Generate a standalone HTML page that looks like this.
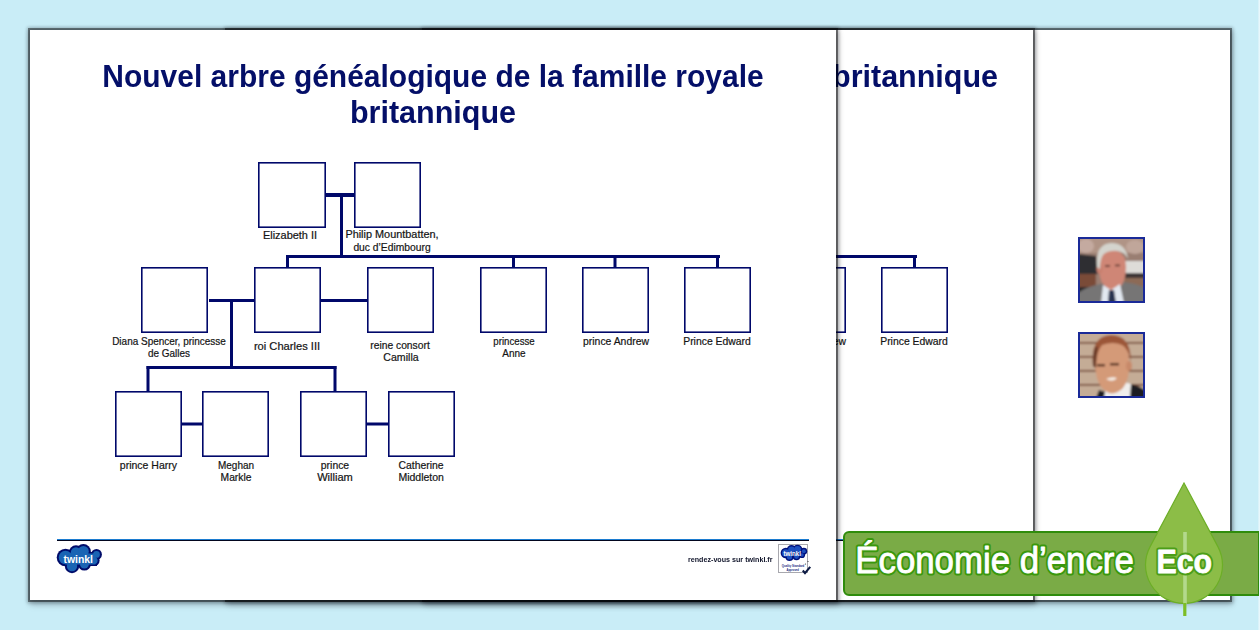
<!DOCTYPE html>
<html><head><meta charset="utf-8">
<style>
html,body{margin:0;padding:0;}
body{width:1260px;height:630px;overflow:hidden;position:relative;background:#c9edf7;font-family:"Liberation Sans",sans-serif;}
.page{position:absolute;top:30px;width:806px;height:570px;background:#fff;overflow:hidden;
  box-shadow:0 0 0 2px rgba(0,0,0,.44),0 0 3px 3px rgba(0,10,20,.2),0.5px 2px 5px 2px rgba(0,10,20,.22),1px 4px 8px 1px rgba(0,10,20,.1);}
#p1{left:30px;}
#p2{left:227px;}
#p3{left:424px;}
.title{position:absolute;left:0;width:806px;text-align:center;color:#040f68;font-weight:bold;font-size:31px;line-height:36px;white-space:nowrap;transform:scaleX(0.96);transform-origin:403px 0;}
.lbl{position:absolute;font-size:10.5px;line-height:12px;color:#141414;-webkit-text-stroke:0.2px #141414;white-space:nowrap;transform:translateX(-50%);}
svg{position:absolute;left:0;top:0;}
</style></head>
<body>

<div class="page" id="p3">
  <svg width="67" height="66" viewBox="0 0 67 66" style="left:654px;top:207px;">
    <defs><filter id="bl" x="-10%" y="-10%" width="120%" height="120%"><feGaussianBlur stdDeviation="0.9"/></filter>
    <clipPath id="c1"><rect x="2" y="2" width="63" height="62"/></clipPath></defs>
    <g clip-path="url(#c1)"><g filter="url(#bl)">
      <rect x="0" y="0" width="67" height="66" fill="#9a7e72"/>
      <rect x="0" y="0" width="67" height="16" fill="#b09486"/>
      <ellipse cx="8" cy="9" rx="8" ry="7" fill="#c4aaa0"/>
      <ellipse cx="57" cy="10" rx="9" ry="7" fill="#c0a69a"/>
      <path d="M0 17 L18 19 L20 37 L0 38 Z" fill="#2e2e30"/>
      <rect x="0" y="37" width="18" height="16" fill="#7a4c38"/>
      <rect x="0" y="50" width="20" height="16" fill="#2a2a2c"/>
      <rect x="46" y="24" width="21" height="12" fill="#dedcd8"/>
      <rect x="46" y="36" width="21" height="5" fill="#3c3434"/>
      <rect x="46" y="41" width="21" height="25" fill="#8c6a56"/>
      <path d="M0 66 L0 56 Q8 50 22 47 L44 45 Q58 46 67 51 L67 66 Z" fill="#767474"/>
      <path d="M21 30 Q21 13 34 13 Q48 14 48 30 Q48 44 42 50 Q36 55 31 53 Q24 48 22 40 Z" fill="#cf8676"/>
      <ellipse cx="21.5" cy="32" rx="3" ry="5" fill="#c88070"/>
      <path d="M19 30 Q17 7 33 6 Q48 6 50 22 Q47 15 40 14 Q30 13 25 18 Q22 23 22 32 Z" fill="#d4d4ce"/>
      <path d="M25 48 L33 53 L42 47 L46 66 L23 66 Z" fill="#e2e8f0"/>
      <path d="M31 53 L36 53 L38 66 L30 66 Z" fill="#263050"/>
      <rect x="27" y="28" width="5" height="1.8" fill="#6a4038"/>
      <rect x="37" y="27.5" width="5" height="1.8" fill="#6a4038"/>
    </g></g>
    <rect x="1" y="1" width="65" height="64" fill="none" stroke="#1a2a98" stroke-width="2"/>
  </svg>
  <svg width="67" height="66" viewBox="0 0 67 66" style="left:654px;top:302px;">
    <defs><clipPath id="c2"><rect x="2" y="2" width="63" height="62"/></clipPath></defs>
    <g clip-path="url(#c2)"><g filter="url(#bl)">
      <rect x="0" y="0" width="67" height="66" fill="#c4ac96"/>
      <g fill="#6e3e2c"><rect x="0" y="10" width="67" height="1.6"/><rect x="0" y="24" width="67" height="1.6"/><rect x="0" y="38" width="67" height="1.6"/><rect x="0" y="52" width="67" height="1.6"/></g>
      <path d="M50 66 L52 52 L60 54 L67 58 L67 66 Z" fill="#1c1c20"/>
      <path d="M18 66 L21 58 L28 60 L28 66 Z" fill="#1c1c20"/>
      <path d="M26 66 L28 54 L46 50 L53 52 L52 66 Z" fill="#f0eeec"/>
      <path d="M16 30 Q16 9 33 9 Q51 9 51 30 Q52 47 45 56 Q38 63 31 61 Q22 57 19 46 Z" fill="#d49a78"/>
      <ellipse cx="51" cy="34" rx="3" ry="5" fill="#c88a6a"/>
      <path d="M15 34 Q12 4 33 3 Q53 3 53 30 Q50 16 44 13 Q35 9 24 13 Q18 20 18 36 Z" fill="#9c5638"/><path d="M15 34 Q14 20 18 14 L20 16 Q18 24 18 36 Z" fill="#6a3e2c"/>
      <rect x="19" y="32" width="8" height="2.4" fill="#5a3424"/>
      <rect x="32" y="31" width="9" height="2.4" fill="#5a3424"/>
      <path d="M28 47 Q34 44 39 46 Q35 51 28 47 Z" fill="#f4ece4"/>
    </g></g>
    <rect x="1" y="1" width="65" height="64" fill="none" stroke="#1a2a98" stroke-width="2"/>
  </svg>
</div>

<div class="page" id="p2">
  <div class="title" style="left:605px;width:auto;top:28.8px;transform-origin:0 0;transform:scaleX(0.984);">britannique</div>
<svg width="806" height="570" viewBox="30 30 806 570">
<rect x="258.8" y="162.8" width="66.4" height="64.4" fill="none" stroke="#00086a" stroke-width="1.6"/>
<rect x="354.8" y="162.8" width="65.4" height="64.4" fill="none" stroke="#00086a" stroke-width="1.6"/>
<rect x="141.8" y="267.8" width="65.4" height="64.4" fill="none" stroke="#00086a" stroke-width="1.6"/>
<rect x="254.8" y="267.8" width="65.4" height="64.4" fill="none" stroke="#00086a" stroke-width="1.6"/>
<rect x="367.8" y="267.8" width="65.4" height="64.4" fill="none" stroke="#00086a" stroke-width="1.6"/>
<rect x="480.8" y="267.8" width="65.4" height="64.4" fill="none" stroke="#00086a" stroke-width="1.6"/>
<rect x="582.8" y="267.8" width="65.4" height="64.4" fill="none" stroke="#00086a" stroke-width="1.6"/>
<rect x="684.8" y="267.8" width="65.4" height="64.4" fill="none" stroke="#00086a" stroke-width="1.6"/>
<rect x="115.8" y="391.8" width="65.4" height="64.4" fill="none" stroke="#00086a" stroke-width="1.6"/>
<rect x="202.8" y="391.8" width="65.4" height="64.4" fill="none" stroke="#00086a" stroke-width="1.6"/>
<rect x="300.8" y="391.8" width="65.4" height="64.4" fill="none" stroke="#00086a" stroke-width="1.6"/>
<rect x="388.8" y="391.8" width="65.4" height="64.4" fill="none" stroke="#00086a" stroke-width="1.6"/>
<g fill="#00086a">
<rect x="326" y="193" width="28" height="4"/>
<rect x="340" y="195" width="3" height="62"/>
<rect x="286" y="255" width="434" height="3"/>
<rect x="286" y="255" width="3" height="13"/>
<rect x="512" y="255" width="3" height="13"/>
<rect x="613.5" y="255" width="3" height="13"/>
<rect x="716" y="255" width="3" height="13"/>
<rect x="209" y="299" width="45" height="3"/>
<rect x="321" y="299" width="46" height="3"/>
<rect x="230" y="299" width="3" height="70"/>
<rect x="146.5" y="366" width="190" height="3"/>
<rect x="146.5" y="366" width="3" height="26"/>
<rect x="333.5" y="366" width="3" height="26"/>
<rect x="182" y="422.5" width="20" height="3"/>
<rect x="367" y="422.5" width="21" height="3"/>
</g></svg>
<div class="lbl" style="left:259.8px;top:199px;transform:translateX(-50%) scaleX(1.043)">Elizabeth II</div>
<div class="lbl" style="left:361.9px;top:198px;transform:translateX(-50%) scaleX(1.037)">Philip Mountbatten,</div>
<div class="lbl" style="left:361.7px;top:211px;transform:translateX(-50%) scaleX(0.98)">duc d’Edimbourg</div>
<div class="lbl" style="left:138.7px;top:305px;transform:translateX(-50%) scaleX(0.95)">Diana Spencer, princesse</div>
<div class="lbl" style="left:138.7px;top:317px;transform:translateX(-50%) scaleX(0.948)">de Galles</div>
<div class="lbl" style="left:256.5px;top:310px;transform:translateX(-50%) scaleX(1.06)">roi Charles III</div>
<div class="lbl" style="left:370.2px;top:309px;transform:translateX(-50%) scaleX(0.98)">reine consort</div>
<div class="lbl" style="left:370.5px;top:321px;transform:translateX(-50%) scaleX(1.01)">Camilla</div>
<div class="lbl" style="left:483.7px;top:305px;transform:translateX(-50%) scaleX(0.92)">princesse</div>
<div class="lbl" style="left:483.9px;top:317px;transform:translateX(-50%) scaleX(0.95)">Anne</div>
<div class="lbl" style="left:585.6px;top:305px;transform:translateX(-50%) scaleX(0.99)">prince Andrew</div>
<div class="lbl" style="left:687.2px;top:305px;transform:translateX(-50%) scaleX(0.99)">Prince Edward</div>
<div class="lbl" style="left:118.4px;top:429px;transform:translateX(-50%) scaleX(1.0)">prince Harry</div>
<div class="lbl" style="left:206.0px;top:429px;transform:translateX(-50%) scaleX(0.95)">Meghan</div>
<div class="lbl" style="left:206.0px;top:441px;transform:translateX(-50%) scaleX(0.98)">Markle</div>
<div class="lbl" style="left:305.2px;top:429px;transform:translateX(-50%) scaleX(0.99)">prince</div>
<div class="lbl" style="left:305.1px;top:441px;transform:translateX(-50%) scaleX(1.056)">William</div>
<div class="lbl" style="left:391.0px;top:429px;transform:translateX(-50%) scaleX(0.99)">Catherine</div>
<div class="lbl" style="left:391.2px;top:441px;transform:translateX(-50%) scaleX(1.0)">Middleton</div>

  <div style="position:absolute;left:26.5px;top:508.6px;width:752px;height:1.3px;background:#1c7cd0;"></div>
  <div style="position:absolute;left:26.5px;top:509.9px;width:752px;height:1.3px;background:#02061e;"></div>
</div>

<div class="page" id="p1">
  <div class="title" style="top:28.8px;transform:scaleX(0.967);">Nouvel arbre généalogique de la famille royale</div>
  <div class="title" style="top:64.8px;transform:scaleX(0.984);">britannique</div>
<svg width="806" height="570" viewBox="30 30 806 570">
<rect x="258.8" y="162.8" width="66.4" height="64.4" fill="none" stroke="#00086a" stroke-width="1.6"/>
<rect x="354.8" y="162.8" width="65.4" height="64.4" fill="none" stroke="#00086a" stroke-width="1.6"/>
<rect x="141.8" y="267.8" width="65.4" height="64.4" fill="none" stroke="#00086a" stroke-width="1.6"/>
<rect x="254.8" y="267.8" width="65.4" height="64.4" fill="none" stroke="#00086a" stroke-width="1.6"/>
<rect x="367.8" y="267.8" width="65.4" height="64.4" fill="none" stroke="#00086a" stroke-width="1.6"/>
<rect x="480.8" y="267.8" width="65.4" height="64.4" fill="none" stroke="#00086a" stroke-width="1.6"/>
<rect x="582.8" y="267.8" width="65.4" height="64.4" fill="none" stroke="#00086a" stroke-width="1.6"/>
<rect x="684.8" y="267.8" width="65.4" height="64.4" fill="none" stroke="#00086a" stroke-width="1.6"/>
<rect x="115.8" y="391.8" width="65.4" height="64.4" fill="none" stroke="#00086a" stroke-width="1.6"/>
<rect x="202.8" y="391.8" width="65.4" height="64.4" fill="none" stroke="#00086a" stroke-width="1.6"/>
<rect x="300.8" y="391.8" width="65.4" height="64.4" fill="none" stroke="#00086a" stroke-width="1.6"/>
<rect x="388.8" y="391.8" width="65.4" height="64.4" fill="none" stroke="#00086a" stroke-width="1.6"/>
<g fill="#00086a">
<rect x="326" y="193" width="28" height="4"/>
<rect x="340" y="195" width="3" height="62"/>
<rect x="286" y="255" width="434" height="3"/>
<rect x="286" y="255" width="3" height="13"/>
<rect x="512" y="255" width="3" height="13"/>
<rect x="613.5" y="255" width="3" height="13"/>
<rect x="716" y="255" width="3" height="13"/>
<rect x="209" y="299" width="45" height="3"/>
<rect x="321" y="299" width="46" height="3"/>
<rect x="230" y="299" width="3" height="70"/>
<rect x="146.5" y="366" width="190" height="3"/>
<rect x="146.5" y="366" width="3" height="26"/>
<rect x="333.5" y="366" width="3" height="26"/>
<rect x="182" y="422.5" width="20" height="3"/>
<rect x="367" y="422.5" width="21" height="3"/>
</g></svg>
<div class="lbl" style="left:259.8px;top:199px;transform:translateX(-50%) scaleX(1.043)">Elizabeth II</div>
<div class="lbl" style="left:361.9px;top:198px;transform:translateX(-50%) scaleX(1.037)">Philip Mountbatten,</div>
<div class="lbl" style="left:361.7px;top:211px;transform:translateX(-50%) scaleX(0.98)">duc d’Edimbourg</div>
<div class="lbl" style="left:138.7px;top:305px;transform:translateX(-50%) scaleX(0.95)">Diana Spencer, princesse</div>
<div class="lbl" style="left:138.7px;top:317px;transform:translateX(-50%) scaleX(0.948)">de Galles</div>
<div class="lbl" style="left:256.5px;top:310px;transform:translateX(-50%) scaleX(1.06)">roi Charles III</div>
<div class="lbl" style="left:370.2px;top:309px;transform:translateX(-50%) scaleX(0.98)">reine consort</div>
<div class="lbl" style="left:370.5px;top:321px;transform:translateX(-50%) scaleX(1.01)">Camilla</div>
<div class="lbl" style="left:483.7px;top:305px;transform:translateX(-50%) scaleX(0.92)">princesse</div>
<div class="lbl" style="left:483.9px;top:317px;transform:translateX(-50%) scaleX(0.95)">Anne</div>
<div class="lbl" style="left:585.6px;top:305px;transform:translateX(-50%) scaleX(0.99)">prince Andrew</div>
<div class="lbl" style="left:687.2px;top:305px;transform:translateX(-50%) scaleX(0.99)">Prince Edward</div>
<div class="lbl" style="left:118.4px;top:429px;transform:translateX(-50%) scaleX(1.0)">prince Harry</div>
<div class="lbl" style="left:206.0px;top:429px;transform:translateX(-50%) scaleX(0.95)">Meghan</div>
<div class="lbl" style="left:206.0px;top:441px;transform:translateX(-50%) scaleX(0.98)">Markle</div>
<div class="lbl" style="left:305.2px;top:429px;transform:translateX(-50%) scaleX(0.99)">prince</div>
<div class="lbl" style="left:305.1px;top:441px;transform:translateX(-50%) scaleX(1.056)">William</div>
<div class="lbl" style="left:391.0px;top:429px;transform:translateX(-50%) scaleX(0.99)">Catherine</div>
<div class="lbl" style="left:391.2px;top:441px;transform:translateX(-50%) scaleX(1.0)">Middleton</div>


  <div style="position:absolute;left:26.5px;top:508.6px;width:752px;height:1.3px;background:#1c7cd0;"></div>
  <div style="position:absolute;left:26.5px;top:509.9px;width:752px;height:1.3px;background:#02061e;"></div>
  <svg width="60" height="40" viewBox="0 0 60 40" style="left:24px;top:512px;">
    <g fill="#000c6a">
      <circle cx="11.5" cy="15.5" r="8.8"/><circle cx="22" cy="10.5" r="7.2"/><circle cx="29.4" cy="9.4" r="7.4"/>
      <circle cx="42.5" cy="12.4" r="5.4"/><circle cx="18" cy="24" r="7.2"/><circle cx="30.4" cy="22.2" r="6.4"/><circle cx="40" cy="18.5" r="5.6"/>
      <rect x="10" y="10" width="33" height="14"/>
    </g>
    <g fill="#1a64b4">
      <circle cx="11.5" cy="15.5" r="6.8"/><circle cx="22" cy="10.5" r="5.2"/><circle cx="29.4" cy="9.4" r="5.4"/>
      <circle cx="42.5" cy="12.4" r="3.4"/><circle cx="18" cy="24" r="5.2"/><circle cx="30.4" cy="22.2" r="4.4"/><circle cx="40" cy="18.5" r="3.6"/>
      <rect x="11.5" y="11.5" width="30" height="11"/>
    </g>
    <text x="9.5" y="20.5" font-family="Liberation Sans" font-weight="bold" font-size="11" fill="#fff" textLength="29.5" lengthAdjust="spacingAndGlyphs">twinkl</text>
  </svg>
  <div style="position:absolute;left:658px;top:526px;font-size:7px;line-height:8px;font-weight:bold;color:#10142a;white-space:nowrap;transform:scaleX(1.02);transform-origin:0 0;">rendez-vous sur twinkl.fr</div>
  <div style="position:absolute;left:748px;top:514px;width:30px;height:29px;box-sizing:border-box;border:1px solid #a8a8ae;background:#fff;"></div>
  <svg width="40" height="36" viewBox="0 0 40 36" style="left:748px;top:514px;">
    <g fill="#00107a">
      <circle cx="7.8" cy="9" r="5.2"/><circle cx="13.5" cy="5.8" r="4.8"/><circle cx="19.5" cy="5.5" r="4.8"/><circle cx="25.8" cy="7.2" r="3.4"/>
      <circle cx="11.5" cy="13" r="4"/><circle cx="18.5" cy="12.5" r="3.8"/><circle cx="24" cy="11" r="3.1"/>
    </g>
    <g fill="#1d4fc0">
      <circle cx="7.8" cy="9" r="3.8"/><circle cx="13.5" cy="5.8" r="3.4"/><circle cx="19.5" cy="5.5" r="3.4"/><circle cx="25.8" cy="7.2" r="2"/>
      <circle cx="11.5" cy="13" r="2.6"/><circle cx="18.5" cy="12.5" r="2.4"/><circle cx="24" cy="11" r="1.7"/>
    </g>
    <text x="5.5" y="11.8" font-family="Liberation Sans" font-weight="bold" font-size="6.5" fill="#fff" textLength="17.5" lengthAdjust="spacingAndGlyphs">twinkl</text>
    <circle cx="30" cy="17.5" r="0.6" fill="#333"/><circle cx="27.5" cy="20" r="0.6" fill="#333"/>
    <text x="3.8" y="22.6" font-family="Liberation Sans" font-weight="bold" font-size="3.6" fill="#1a2a80" textLength="22.5" lengthAdjust="spacingAndGlyphs">Quality Standard</text>
    <text x="8.5" y="26.8" font-family="Liberation Sans" font-weight="bold" font-size="3.2" fill="#1a2a80" textLength="12.5" lengthAdjust="spacingAndGlyphs">Approved</text>
    <path d="M24.8 26.5 L27 29.2 L32.2 22.8" fill="none" stroke="#0c1a44" stroke-width="2.1"/>
  </svg>
</div>

<div style="position:absolute;left:1258px;top:0;width:2px;height:630px;background:linear-gradient(90deg,#d4f0f9,#eef9fc);"></div>
<div style="position:absolute;left:843px;top:531px;width:416px;height:65px;box-sizing:border-box;border:2px solid #2f8c0c;border-right-width:1.5px;border-radius:6px 0 0 6px;background:#7aab46;"></div>
<svg width="1260" height="630" viewBox="0 0 1260 630" style="left:0;top:0;">
  <text x="855.3" y="573.2" font-family="Liberation Sans" font-size="37.5" fill="#fff" stroke="#3a980c" stroke-width="5" stroke-linejoin="round" textLength="278.5" lengthAdjust="spacingAndGlyphs">Économie d’encre</text>
  <text x="855.3" y="573.2" font-family="Liberation Sans" font-size="37.5" fill="#fff" stroke="#fff" stroke-width="0.9" stroke-linejoin="round" textLength="278.5" lengthAdjust="spacingAndGlyphs">Économie d’encre</text>
  <path d="M1184 483 L1218 546.9 A38.5 38.5 0 1 1 1150 546.9 Z" fill="#8cbd47" stroke="#6cae26" stroke-width="1.2"/>
  <rect x="1183.2" y="532" width="3.6" height="72" fill="#b3d98c"/>
  <rect x="1183.2" y="603" width="3.2" height="13" fill="#7cbd26"/>
  <text x="1156.6" y="572.6" font-family="Liberation Sans" font-weight="bold" font-size="32.8" fill="#fff" stroke="#4c9e18" stroke-width="5" stroke-linejoin="round" textLength="55.5" lengthAdjust="spacingAndGlyphs">Eco</text>
  <text x="1156.6" y="572.6" font-family="Liberation Sans" font-weight="bold" font-size="32.8" fill="#fff" stroke="#fff" stroke-width="0.8" stroke-linejoin="round" textLength="55.5" lengthAdjust="spacingAndGlyphs">Eco</text>
</svg>
</body></html>
